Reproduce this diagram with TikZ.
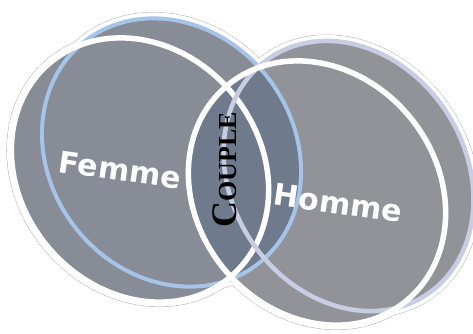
\documentclass[tikz,border=0pt]{standalone}
\usepackage{fontspec}
\newfontfamily\lblfont{DejaVu Sans}
\newfontfamily\cplfont{Liberation Serif}
\definecolor{leftgray}{RGB}{135,140,150}
\definecolor{rightgray}{RGB}{146,147,152}
\definecolor{overlapc}{RGB}{111,122,140}
\definecolor{bluering}{RGB}{166,195,232}
\definecolor{lavring}{RGB}{201,205,227}
\definecolor{hairc}{RGB}{165,165,165}
\tikzset{
  lbl/.style={text=white, font=\lblfont\bfseries\fontsize{30}{30}\selectfont, inner sep=0pt},
  cpl/.style={text=black, font=\cplfont\bfseries, inner sep=0pt},
  hairW/.style={draw=hairc, line width=9.8pt},
  hairB/.style={draw=hairc, line width=12.8pt},
  bandW/.style={draw=white, line width=9pt},
  bandB/.style={draw=white, line width=12pt},
  wring/.style={draw=white, line width=5.5pt},
  bring/.style={draw=bluering, line width=4pt},
  lring/.style={draw=lavring, line width=4.5pt},
  shWL/.style={rotate around={-50:(140,170)}},
  shBL/.style={rotate around={-52:(171.5,152.5)}},
  shWR/.style={rotate around={-50:(317,193)}},
  shBR/.style={rotate around={-57:(348.5,176)}}
}
\begin{document}
\begin{tikzpicture}[x=1pt,y=-1pt]
\useasboundingbox (0,0) rectangle (473,333);
\def\WL{(140,170) ellipse [x radius=140, y radius=120]}
\def\BL{(171.5,152.5) ellipse [x radius=141, y radius=122]}
\def\WR{(317,193) ellipse [x radius=140, y radius=120]}
\def\BR{(348.5,176) ellipse [x radius=142, y radius=117]}
% outer hairline and white halo of the union
\path[hairW,shWL] \WL; \path[hairB,shBL] \BL; \path[hairW,shWR] \WR; \path[hairB,shBR] \BR;
\path[bandW,shWL] \WL; \path[bandB,shBL] \BL; \path[bandW,shWR] \WR; \path[bandB,shBR] \BR;
% fills
\fill[leftgray,shWL] \WL; \fill[leftgray,shBL] \BL;
\fill[rightgray,shWR] \WR; \fill[rightgray,shBR] \BR;
\begin{scope}
  \clip[shWL] \WL;
  \fill[overlapc,shWR] \WR; \fill[overlapc,shBR] \BR;
\end{scope}
\begin{scope}
  \clip[shBL] \BL;
  \fill[overlapc,shWR] \WR; \fill[overlapc,shBR] \BR;
\end{scope}
% rings
\path[bring,shBL] \BL;
\path[wring,shWL] \WL;
\path[lring,shBR] \BR;
\path[wring,shWR] \WR;
% labels
\node[lbl, rotate=-8] (femme) at (120,170) {Femme};
\node[lbl, rotate=-8] (homme) at (338,203) {Homme};
\node[cpl, rotate=90] (couple) at (225,170) {{\fontsize{36}{36}\selectfont C}{\fontsize{26}{26}\selectfont OUPLE}};
\end{tikzpicture}
\end{document}
